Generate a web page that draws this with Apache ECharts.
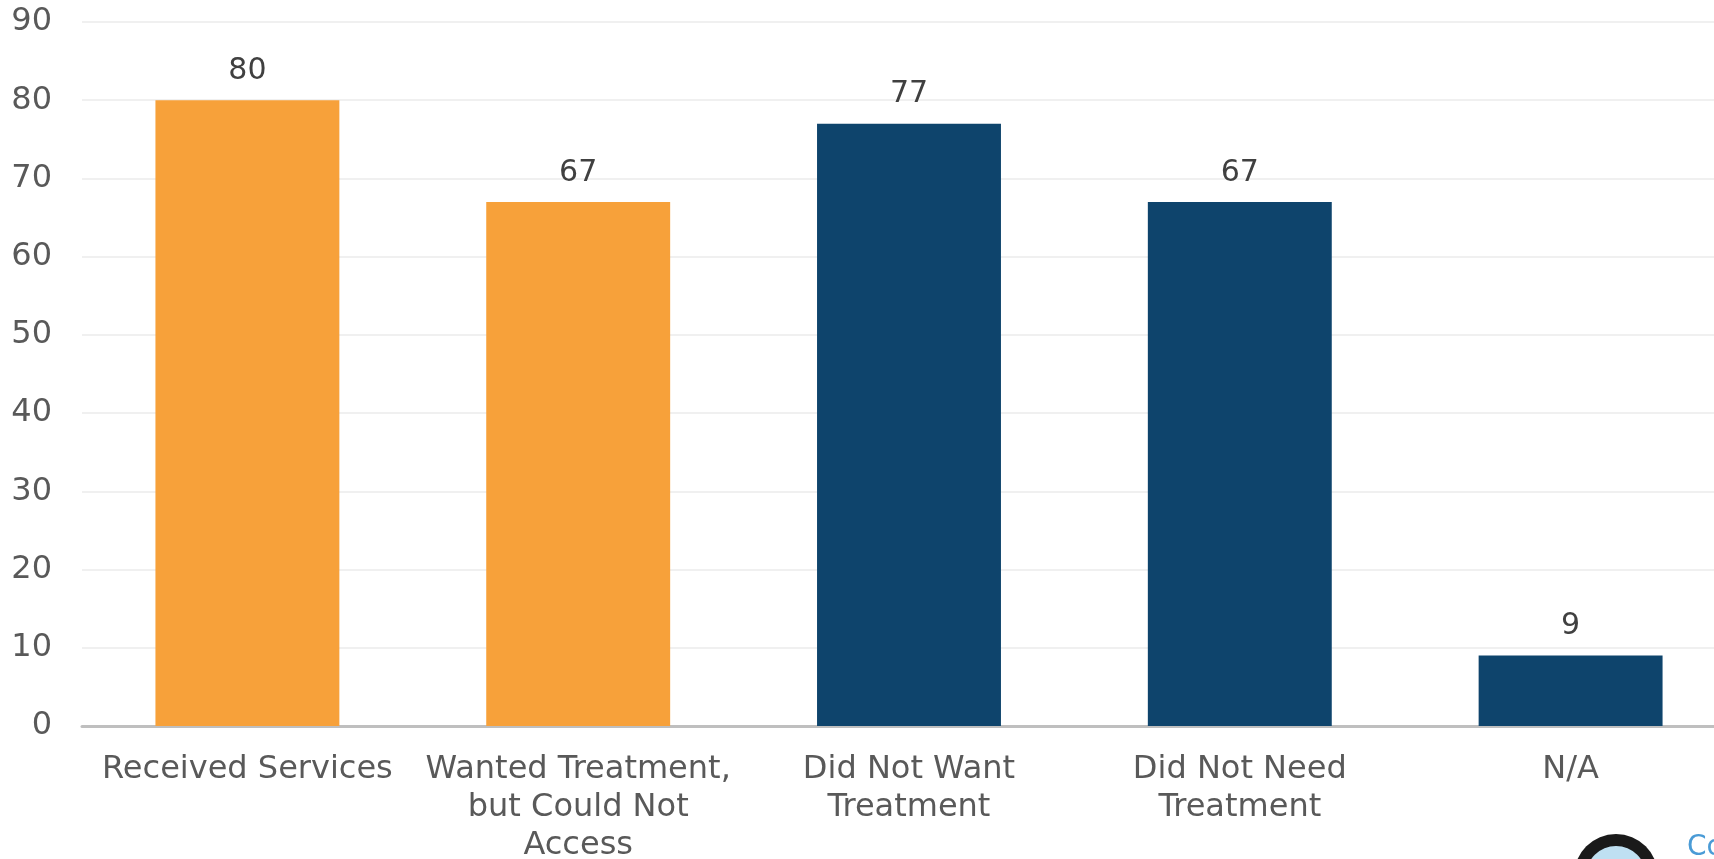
<!DOCTYPE html>
<html>
<head>
<meta charset="utf-8">
<script src="https://cdn.jsdelivr.net/npm/echarts@6/dist/echarts.min.js"></script>
<style>
html,body{margin:0;padding:0;background:#fff;}
#chart{width:1714px;height:859px;}
</style>
</head>
<body>
<div id="chart"></div>
<script>
const categories = [
  "Received Services",
  "Wanted Treatment,\nbut Could Not\nAccess",
  "Did Not Want\nTreatment",
  "Did Not Need\nTreatment",
  "N/A"
];
const values = [80, 67, 77, 67, 9];
const yTicks = [0, 10, 20, 30, 40, 50, 60, 70, 80, 90];

const ORANGE = "#F7A13A";
const NAVY = "#0E446C";
const FONT = "'DejaVu Sans','Noto Sans',sans-serif";

const chart = echarts.init(document.getElementById('chart'));
chart.setOption({
  backgroundColor: '#ffffff',
  animation: false,
  grid: { left: 82, width: 1654, top: 22, bottom: 133, containLabel: false, outerBoundsMode: 'none' },
  xAxis: {
    type: 'category',
    data: categories,
    axisLine: { lineStyle: { color: '#BFBFBF', width: 3 } },
    axisTick: { show: false },
    axisLabel: {
      color: '#595959', fontSize: 32, fontFamily: FONT,
      lineHeight: 38, margin: 25, interval: 0
    }
  },
  yAxis: {
    type: 'value',
    min: yTicks[0], max: yTicks[yTicks.length - 1], interval: 10,
    axisLine: { show: false },
    axisTick: { show: false },
    splitLine: { lineStyle: { color: '#F0F0F0', width: 2 } },
    axisLabel: { color: '#595959', fontSize: 32, fontFamily: FONT, margin: 30 }
  },
  series: [{
    type: 'bar',
    data: values,
    barWidth: '55.6%',
    itemStyle: { color: p => (p.dataIndex < 2 ? ORANGE : NAVY) },
    label: {
      show: true, position: 'top', distance: 14,
      color: '#404040', fontSize: 30, fontFamily: FONT
    }
  }],
  graphic: [
    { type: 'circle', shape: { cx: 1616, cy: 876, r: 42 },
      style: { fill: '#1a1a1a' }, z: 10 },
    { type: 'circle', shape: { cx: 1616, cy: 876, r: 30 },
      style: { fill: '#BFE0F2' }, z: 11 },
    { type: 'text', left: 1687, top: 834,
      style: { text: 'Co', fill: '#4A9BD6', font: "28px 'DejaVu Sans',sans-serif" }, z: 12 }
  ]
});
</script>
</body>
</html>
